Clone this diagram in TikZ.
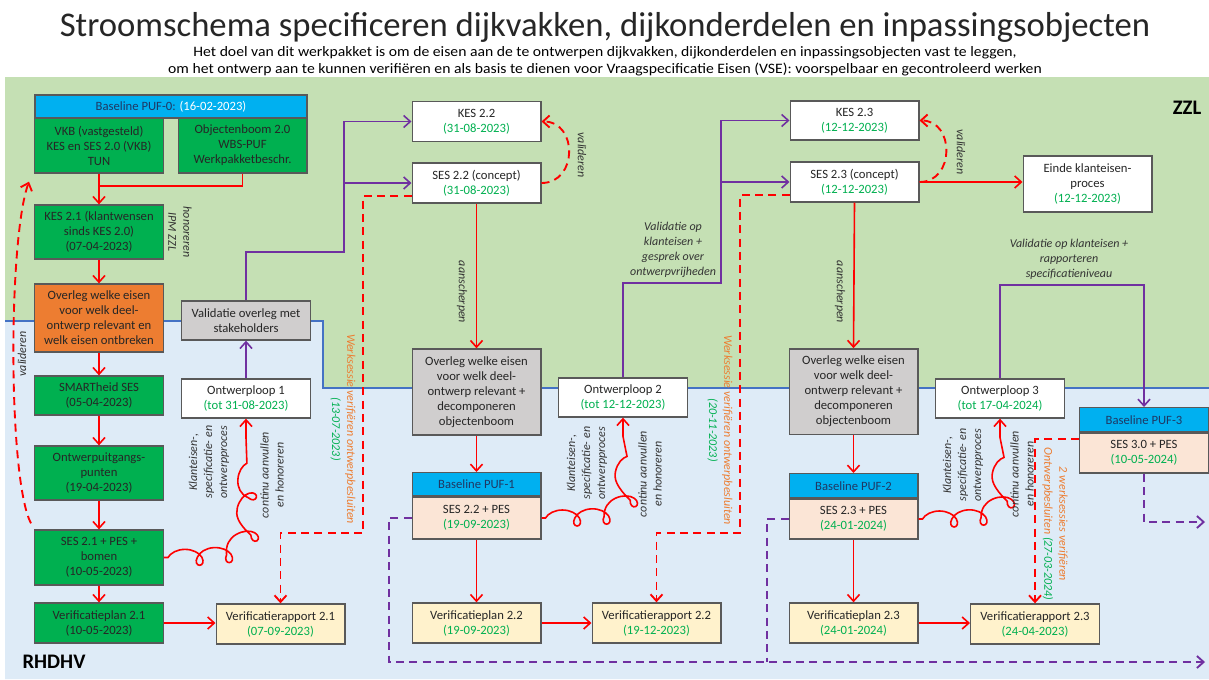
\documentclass[tikz,border=0pt]{standalone}
\usepackage{fontspec}
\setmainfont{Carlito}
\newfontfamily\subfont[FakeStretch=1.09]{Carlito}
\usepackage{tikz}
\usetikzlibrary{arrows.meta, positioning, decorations.pathmorphing}

\definecolor{zzlgreen}{HTML}{C5E0B4}
\definecolor{rhdblue}{HTML}{DEEBF7}
\definecolor{lanecol}{HTML}{4472C4}
\definecolor{boxgreen}{HTML}{00B050}
\definecolor{boxorange}{HTML}{ED7D31}
\definecolor{boxgray}{HTML}{D0CECE}
\definecolor{boxyellow}{HTML}{FFF2CC}
\definecolor{boxpeach}{HTML}{FBE5D6}
\definecolor{hdrcyan}{HTML}{00B0F0}
\definecolor{hdrtext}{HTML}{1F3864}
\definecolor{datecol}{HTML}{00B050}
\definecolor{edgecol}{HTML}{595959}
\definecolor{flowred}{HTML}{FF0000}
\definecolor{flowpurple}{HTML}{7030A0}
\definecolor{sessioncol}{HTML}{ED7D31}
\definecolor{labelcol}{HTML}{333333}
\definecolor{titlecol}{HTML}{262626}

\newcommand{\datum}[1]{\textcolor{datecol}{#1}}

\tikzset{
  box/.style={draw=edgecol, line width=1pt, minimum width=96.5pt, minimum height=30pt,
    inner sep=1pt, align=center, text=black!85, font=\fontsize{9.5}{11.25}\selectfont},
  greenbox/.style={box, fill=boxgreen},
  orangebox/.style={box, fill=boxorange},
  graybox/.style={box, fill=boxgray},
  whitebox/.style={box, fill=white},
  yellowbox/.style={box, fill=boxyellow},
  peachbox/.style={box, fill=boxpeach},
  hdr/.style={box, fill=hdrcyan, text=hdrtext, minimum height=17.25pt},
  lbl/.style={inner sep=0pt, align=center, text=labelcol, font=\fontsize{9}{11.25}\selectfont\itshape},
  sess/.style={lbl, text=sessioncol},
  tip/.style={-{Straight Barb[length=5pt,width=9pt]}},
  flow/.style={draw=flowred, line width=1.2pt, tip},
  redline/.style={draw=flowred, line width=1.2pt},
  pflow/.style={draw=flowpurple, line width=1.2pt, tip},
  rdash/.style={flow, line width=1.4pt, dash pattern=on 6pt off 4pt},
  pdash/.style={pflow, line width=1.4pt, dash pattern=on 6pt off 4pt},
  pdashline/.style={draw=flowpurple, line width=1.4pt, dash pattern=on 6pt off 4pt},
  squig/.style={flow, decorate, decoration={coil, amplitude=6pt, segment length=22pt,
    aspect=1.2, pre length=3pt, post length=14pt}}
}

\begin{document}
\begin{tikzpicture}[x=0.75pt, y=-0.75pt]
    \useasboundingbox (0,0) rectangle (1209,679);

    % Lanes ZZL and RHDHV
    \fill[zzlgreen] (5,77) rectangle (1209,388);
    \fill[rhdblue] (5,321) -- (323,321) -- (323,388) -- (1209,388) -- (1209,679) -- (5,679) -- cycle;
    \draw[lanecol, line width=1.1pt] (5,321) -- (323,321) -- (323,388) -- (1209,388);
    \node[font=\fontsize{15.5}{18}\selectfont\bfseries] (zzl) at (1187,108) {ZZL};
    \node[font=\fontsize{15.5}{18}\selectfont\bfseries] (rhdhv) at (54,662) {RHDHV};

    % Title
    \node[inner sep=0pt, text=titlecol, font=\fontsize{26}{30}\selectfont] (title) at (605,27)
        {Stroomschema specificeren dijkvakken, dijkonderdelen en inpassingsobjecten};
    \node[inner sep=0pt, align=center, font=\subfont\fontsize{10.8}{12.75}\selectfont] (subtitle) at (605,61.5)
        {Het doel van dit werkpakket is om de eisen aan de te ontwerpen dijkvakken, dijkonderdelen en inpassingsobjecten vast te leggen,\\
         om het ontwerp aan te kunnen verifiëren en als basis te dienen voor Vraagspecificatie Eisen (VSE): voorspelbaar en gecontroleerd werken};

    % Column 1
    \node[hdr, minimum width=204pt] (puf0h) at (171,106.5) {Baseline PUF-0: \textcolor{white}{(16-02-2023)}};
    \node[greenbox, minimum height=41.25pt] (vkb) at (99,145.5) {VKB (vastgesteld)\\KES en SES 2.0 (VKB)\\TUN};
    \node[greenbox, minimum height=41.25pt] (obj) at (242.5,145.5) {Objectenboom 2.0\\WBS-PUF\\Werkpakketbeschr.};
    \node[greenbox, minimum height=40.5pt] (kes21) at (99,232) {KES 2.1 (klantwensen\\sinds KES 2.0)\\(07-04-2023)};
    \node[orangebox, minimum height=51pt] (ov1) at (99,318) {Overleg welke eisen\\voor welk deel-\\ontwerp relevant en\\welk eisen ontbreken};
    \node[greenbox, minimum height=29.25pt] (smart) at (99,395.5) {SMARTheid SES\\(05-04-2023)};
    \node[greenbox, minimum height=40.5pt] (oug) at (99,473) {Ontwerpuitgangs-\\punten\\(19-04-2023)};
    \node[greenbox, minimum height=41.25pt] (ses21) at (99,557.5) {SES 2.1 + PES +\\bomen\\(10-05-2023)};
    \node[greenbox] (vp21) at (99,623) {Verificatieplan 2.1\\(10-05-2023)};
    \node[yellowbox] (vr21) at (280.5,624) {Verificatierapport 2.1\\\datum{(07-09-2023)}};
    \node[graybox, minimum height=29.25pt] (val) at (246,320.5) {Validatie overleg met\\stakeholders};
    \node[whitebox, minimum height=29.25pt] (ol1) at (246,398.5) {Ontwerploop 1\\\datum{(tot 31-08-2023)}};

    % Column 2
    \node[whitebox] (kes22) at (476.5,121.5) {KES 2.2\\\datum{(31-08-2023)}};
    \node[whitebox] (ses22) at (476.5,183) {SES 2.2 (concept)\\\datum{(31-08-2023)}};
    \node[graybox, minimum height=64.5pt] (ov2) at (476.5,392) {Overleg welke eisen\\voor welk deel-\\ontwerp relevant +\\decomponeren\\objectenboom};
    \node[whitebox, minimum height=29.25pt] (ol2) at (623,397.5) {Ontwerploop 2\\\datum{(tot 12-12-2023)}};
    \node[peachbox, minimum height=31.5pt] (puf1) at (476.5,518) {SES 2.2 + PES\\\datum{(19-09-2023)}};
    \node[hdr, above=0pt of puf1] (puf1h) {Baseline PUF-1};
    \node[yellowbox] (vp22) at (476.5,623) {Verificatieplan 2.2\\\datum{(19-09-2023)}};
    \node[yellowbox] (vr22) at (656.5,623) {Verificatierapport 2.2\\\datum{(19-12-2023)}};

    % Column 3
    \node[whitebox, minimum height=29.25pt] (kes23) at (854.5,120.5) {KES 2.3\\\datum{(12-12-2023)}};
    \node[whitebox] (ses23) at (854.5,182) {SES 2.3 (concept)\\\datum{(12-12-2023)}};
    \node[whitebox, minimum height=42pt] (einde) at (1087.5,184) {Einde klanteisen-\\proces\\\datum{(12-12-2023)}};
    \node[graybox, minimum height=64pt] (ov3) at (853.5,391.5) {Overleg welke eisen\\voor welk deel-\\ontwerp relevant +\\decomponeren\\objectenboom};
    \node[whitebox, minimum height=29.25pt] (ol3) at (1000,398.5) {Ontwerploop 3\\\datum{(tot 17-04-2024)}};
    \node[peachbox] (puf2) at (853.5,519) {SES 2.3 + PES\\\datum{(24-01-2024)}};
    \node[hdr, minimum height=18pt, above=0pt of puf2] (puf2h) {Baseline PUF-2};
    \node[yellowbox] (vp23) at (853.5,623) {Verificatieplan 2.3\\\datum{(24-01-2024)}};
    \node[yellowbox] (vr23) at (1035,624) {Verificatierapport 2.3\\\datum{(24-04-2023)}};
    \node[peachbox] (puf3) at (1144,453) {SES 3.0 + PES\\\datum{(10-05-2024)}};
    \node[hdr, minimum height=18pt, above=0pt of puf3] (puf3h) {Baseline PUF-3};

    % Red flow
    \coordinate (j0) at (99,186);
    \draw[flow] (vkb.south) -- (kes21.north);
    \draw[redline] (obj.south) |- (j0);
    \draw[flow] (kes21.south) -- (ov1.north);
    \draw[flow] (ov1.south) -- (smart.north);
    \draw[flow] (smart.south) -- (oug.north);
    \draw[flow] (oug.south) -- (ses21.north);
    \draw[flow] (ses21.south) -- (vp21.north);
    \draw[flow] (vp21.east) -- (vr21.west |- vp21.east);
    \draw[flow] (ses22.south) -- (ov2.north);
    \draw[flow] (ov2.south) -- (puf1h.north);
    \draw[flow] (puf1.south) -- (vp22.north);
    \draw[flow] (vp22.east) -- (vr22.west);
    \draw[flow] (ses23.south) -- (ov3.north);
    \draw[flow] (ov3.south) -- (puf2h.north);
    \draw[flow] (puf2.south) -- (vp23.north);
    \draw[flow] (vp23.east) -- (vr23.west |- vp23.east);
    \draw[flow] (ses23.east) -- (einde.west |- ses23.east);

    % Validating loops
    \draw[rdash] ([shift={(-3,-6)}]ses21.north west) .. controls (8,480) and (8,240) .. ([shift={(-5,8)}]vkb.south west);
    \draw[rdash] (ses22.east) .. controls (578,183) and (578,121.5) .. (kes22.east);
    \draw[rdash] (ses23.east) .. controls (955,182) and (955,120.5) .. (kes23.east);

    % Design loops
    \draw[squig] (ses21.east) .. controls (246,557) .. (ol1.south);
    \draw[squig] (puf1.east) .. controls (623,518) .. (ol2.south);
    \draw[squig] (puf2.east) .. controls (1000,519) .. (ol3.south);

    % Purple flow
    \coordinate (pv1) at (344,252);
    \coordinate (pv2) at (721,283);
    \coordinate (pv3) at (1000,285);
    \draw[pflow] (ol1.north) -- (val.south);
    \draw[pflow] (val.north) |- (pv1) |- (kes22.west);
    \draw[pflow] (pv1 |- ses22.west) -- (ses22.west);
    \draw[pflow] (ol2.north) |- (pv2) |- (kes23.west);
    \draw[pflow] (pv2 |- ses23.west) -- (ses23.west);
    \draw[pflow] (ol3.north) -- (pv3) -| (puf3h.north);

    % Work sessions
    \coordinate (ws1) at (363,533);
    \coordinate (ws2) at (740,533);
    \draw[rdash] ([shift={(0,-8)}]ses22.south west) -| (ws1) -| (vr21.north);
    \draw[rdash] ([shift={(0,-8)}]ses23.south west) -| (ws2) -| (vr22.north);
    \draw[rdash] ([shift={(0,7)}]puf3.north west) -| (vr23.north);

    % Baselines onward
    \coordinate (pd1) at (389,662);
    \coordinate (pd2) at (767,662);
    \coordinate (pdend) at (1205,662);
    \coordinate (pdend3) at (1205,522);
    \draw[pdash] (puf1.west) -| (pd1) -- (pdend);
    \draw[pdashline] (puf2.west) -| (pd2);
    \draw[pdash] (puf3.south) |- (pdend3);

    % Labels
    \node[lbl, rotate=-90] (honor) at (180,232) {honoreren\\IPM ZZL};
    \node[lbl, rotate=90] (valid0) at (22,354) {valideren};
    \node[lbl, rotate=-90] (valid2) at (582,155) {valideren};
    \node[lbl, rotate=-90] (valid3) at (961,152) {valideren};
    \node[lbl, rotate=-90] (scherp2) at (462,292) {aanscherpen};
    \node[lbl, rotate=-90] (scherp3) at (840,292) {aanscherpen};
    \node[lbl, rotate=90] (proc1) at (209,462) {Klanteisen-,\\specificatie- en\\ontwerpproces};
    \node[lbl, rotate=90] (proc2) at (587,463) {Klanteisen-,\\specificatie- en\\ontwerpproces};
    \node[lbl, rotate=90] (proc3) at (963,465) {Klanteisen-,\\specificatie- en\\ontwerpproces};
    \node[lbl, rotate=90] (aanv1) at (272,475) {continu aanvullen\\en honoreren};
    \node[lbl, rotate=90] (aanv2) at (650,474) {continu aanvullen\\en honoreren};
    \node[lbl, rotate=90] (aanv3) at (1022,474) {continu aanvullen\\en honoreren};
    \node[lbl] (valtxt2) at (673,250) {Validatie op\\klanteisen +\\gesprek over\\ontwerpvrijheden};
    \node[lbl] (valtxt3) at (1069,259) {Validatie op klanteisen +\\rapporteren\\specificatieniveau};
    \node[sess, rotate=-90] (sess1) at (343,429) {Werksessie verifiëren ontwerpbesluiten\\\datum{(13-07-2023)}};
    \node[sess, rotate=-90] (sess2) at (720,430) {Werksessie verifiëren ontwerpbesluiten\\\datum{(20-11-2023)}};
    \node[sess, rotate=-90] (sess3) at (1055,524) {2 werksessies verifiëren\\Ontwerpbesluiten \datum{(27-03-2024)}};
\end{tikzpicture}
\end{document}
